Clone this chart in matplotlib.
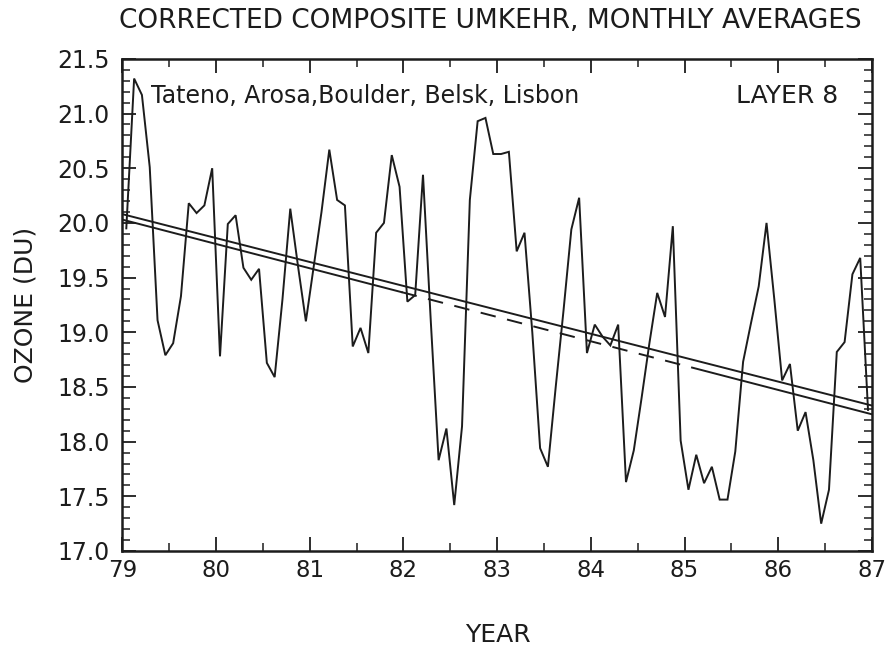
import numpy as np
import matplotlib
matplotlib.use("Agg")
import matplotlib.pyplot as plt
from matplotlib.ticker import MultipleLocator, FormatStrFormatter

# ---- data ----
ozone_1979 = [19.95, 21.32, 21.17, 20.51, 19.11, 18.79, 18.90, 19.33, 20.18, 20.09, 20.16, 20.50]
ozone_1980 = [18.78, 19.99, 20.07, 19.59, 19.48, 19.58, 18.72, 18.59, 19.30, 20.13, 19.60, 19.10]
ozone_1981 = [19.60, 20.10, 20.67, 20.21, 20.16, 18.87, 19.04, 18.81, 19.91, 20.00, 20.62, 20.33]
ozone_1982 = [19.28, 19.34, 20.44, 19.10, 17.83, 18.12, 17.42, 18.14, 20.21, 20.93, 20.96, 20.63]
ozone_1983 = [20.63, 20.65, 19.74, 19.91, 19.00, 17.94, 17.77, 18.50, 19.20, 19.94, 20.23, 18.81]
ozone_1984 = [19.07, 18.96, 18.88, 19.07, 17.63, 17.92, 18.40, 18.90, 19.36, 19.14, 19.97, 18.01]
ozone_1985 = [17.56, 17.88, 17.62, 17.77, 17.47, 17.47, 17.91, 18.73, 19.08, 19.42, 20.00, 19.30]
ozone_1986 = [18.56, 18.71, 18.10, 18.27, 17.83, 17.25, 17.56, 18.82, 18.91, 19.53, 19.68, 18.29]

start_year = 79
trend_years = [79.0, 87.0]
upper_trend = [20.08, 18.33]
lower_trend = [20.03, 18.25]
lower_solid1 = [79.0, 81.98]
lower_dashed = [81.98, 84.96]
lower_solid2 = [85.08, 87.0]

year_ticks = [79, 80, 81, 82, 83, 84, 85, 86, 87]

title = "CORRECTED COMPOSITE UMKEHR, MONTHLY AVERAGES"
stations = "Tateno, Arosa,Boulder, Belsk, Lisbon"
layer = "LAYER 8"

# ---- figure ----
plt.rcParams['font.family'] = ['DejaVu Sans']
fig = plt.figure(figsize=(8.87, 6.54), dpi=100)
ax = fig.add_axes([0.138, 0.1575, 0.845, 0.7525])

ozone = np.concatenate([ozone_1979, ozone_1980, ozone_1981, ozone_1982,
                        ozone_1983, ozone_1984, ozone_1985, ozone_1986])
months = start_year + (np.arange(len(ozone)) + 0.5) / 12.0

ink = '#1c1c1c'
ax.plot(months, ozone, color=ink, lw=1.4, solid_joinstyle='miter')

ax.plot(trend_years, upper_trend, color=ink, lw=1.4)

def lower_at(xs):
    return np.interp(xs, trend_years, lower_trend)

ax.plot(lower_solid1, lower_at(lower_solid1), color=ink, lw=1.4)
ax.plot(lower_dashed, lower_at(lower_dashed), color=ink, lw=1.4, dashes=(8, 6))
ax.plot(lower_solid2, lower_at(lower_solid2), color=ink, lw=1.4)

ax.set_xlim(79, 87)
ax.set_ylim(17.0, 21.5)
ax.set_xticks(year_ticks)
ax.set_xticklabels([str(y) for y in year_ticks])
ax.xaxis.set_minor_locator(MultipleLocator(0.5))
ax.yaxis.set_major_locator(MultipleLocator(0.5))
ax.yaxis.set_minor_locator(MultipleLocator(0.1))
ax.yaxis.set_major_formatter(FormatStrFormatter('%.1f'))

ax.tick_params(which='both', direction='in', top=True, right=True, color=ink)
ax.tick_params(which='major', length=10, width=1.3, labelcolor=ink)
ax.tick_params(axis='y', which='major', pad=9, labelsize=17)
ax.tick_params(axis='x', which='major', pad=6, labelsize=16.5)
ax.tick_params(which='minor', length=6, width=1.1)
for s in ax.spines.values():
    s.set_linewidth(1.8)
    s.set_color(ink)

ax.text(79.31, 21.16, stations, fontsize=17, color=ink, va='center', ha='left')
ax.text(86.64, 21.16, layer, fontsize=18, color=ink, va='center', ha='right')

fig.text(0.553, 0.968, title, fontsize=19, color=ink, ha='center', va='center')
fig.text(0.029, 0.534, "OZONE (DU)", fontsize=18, color=ink, rotation=90,
         ha='center', va='center')
fig.text(0.561, 0.029, "YEAR", fontsize=18, color=ink, ha='center', va='center')

fig.savefig("out.png", dpi=100, facecolor='white')
